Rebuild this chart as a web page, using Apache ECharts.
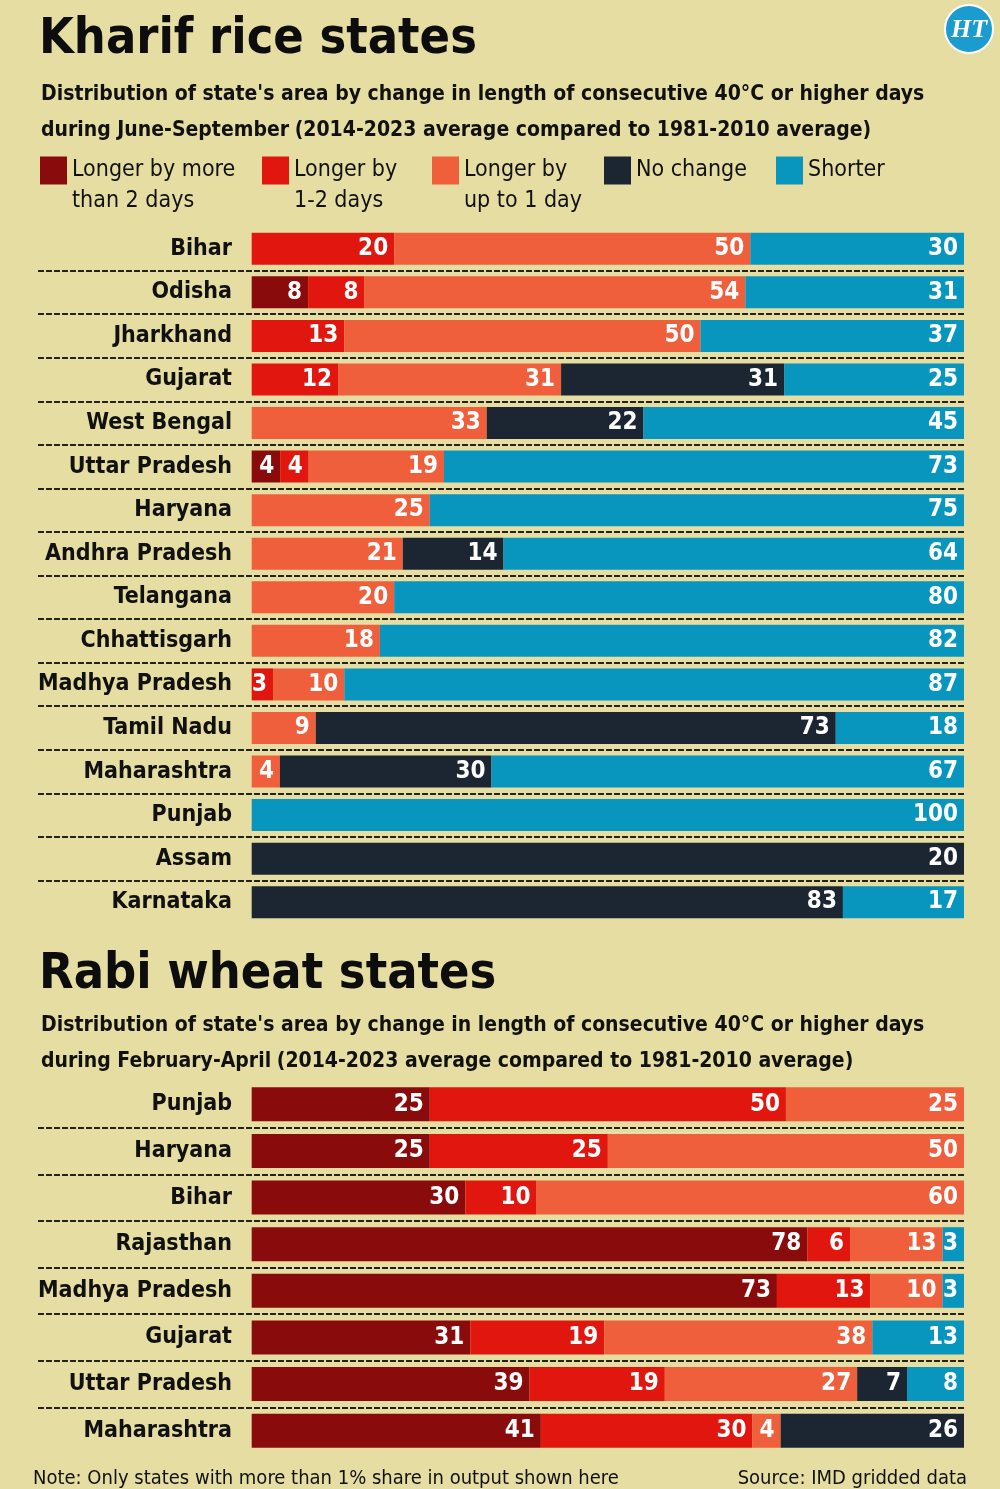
<!DOCTYPE html>
<html>
<head>
<meta charset="utf-8">
<title>Kharif rice and Rabi wheat states</title>
<script src="https://cdn.jsdelivr.net/npm/echarts@6/dist/echarts.min.js"></script>
<style>
  html, body { margin: 0; padding: 0; background: #e6dda3; }
  #chart { width: 1000px; height: 1489px; }
</style>
</head>
<body>
<div id="chart"></div>
<script>
// categories
var kharifStates = ['Bihar', 'Odisha', 'Jharkhand', 'Gujarat', 'West Bengal', 'Uttar Pradesh', 'Haryana',
    'Andhra Pradesh', 'Telangana', 'Chhattisgarh', 'Madhya Pradesh', 'Tamil Nadu', 'Maharashtra',
    'Punjab', 'Assam', 'Karnataka'];
var rabiStates = ['Punjab', 'Haryana', 'Bihar', 'Rajasthan', 'Madhya Pradesh', 'Gujarat',
    'Uttar Pradesh', 'Maharashtra'];

var seriesNames = ['Longer by more\nthan 2 days', 'Longer by\n1-2 days', 'Longer by\nup to 1 day', 'No change', 'Shorter'];

// kharif (June-September), % of area
var kharifMore2  = [0, 8, 0, 0, 0, 4, 0, 0, 0, 0, 0, 0, 0, 0, 0, 0];
var kharif1to2   = [20, 8, 13, 12, 0, 4, 0, 0, 0, 0, 3, 0, 0, 0, 0, 0];
var kharifUpTo1  = [50, 54, 50, 31, 33, 19, 25, 21, 20, 18, 10, 9, 4, 0, 0, 0];
var kharifNone   = [0, 0, 0, 31, 22, 0, 0, 14, 0, 0, 0, 73, 30, 0, 20, 83];
var kharifShort  = [30, 31, 37, 25, 45, 73, 75, 64, 80, 82, 87, 18, 67, 100, 0, 17];

// rabi (February-April), % of area
var rabiMore2  = [25, 25, 30, 78, 73, 31, 39, 41];
var rabi1to2   = [50, 25, 10, 6, 13, 19, 19, 30];
var rabiUpTo1  = [25, 50, 60, 13, 10, 38, 27, 4];
var rabiNone   = [0, 0, 0, 0, 0, 0, 7, 26];
var rabiShort  = [0, 0, 0, 3, 3, 13, 8, 0];

var colors = ['#8a0b0b', '#e1170f', '#ef5f3c', '#1b2632', '#0896be'];
var FONT = "'DejaVu Sans Condensed', 'Liberation Sans Narrow', sans-serif";

function rowTotals(groups) {
    return groups[0].map(function (v, i) {
        var t = 0;
        groups.forEach(function (g) { t += g[i]; });
        return t;
    });
}

// each row is drawn as a share of its own total, labels keep the printed value
function buildSeries(groups, axisIndex, stack, barWidth) {
    var totals = rowTotals(groups);
    return groups.map(function (raw, k) {
        return {
            name: seriesNames[k],
            type: 'bar',
            stack: stack,
            xAxisIndex: axisIndex,
            yAxisIndex: axisIndex,
            barWidth: barWidth,
            itemStyle: { color: colors[k] },
            label: {
                show: true,
                position: 'insideRight',
                distance: 6,
                color: '#fff',
                fontFamily: FONT,
                fontWeight: 'bold',
                fontSize: 24,
                formatter: function (p) { return raw[p.dataIndex] > 0 ? raw[p.dataIndex] : ''; }
            },
            emphasis: { disabled: true },
            data: raw.map(function (v, i) { return v / totals[i] * 100; })
        };
    });
}

function dashColors(n) {
    var arr = [];
    for (var i = 0; i <= n; i++) arr.push(i === 0 || i === n ? 'rgba(0,0,0,0)' : '#23231c');
    return arr;
}

var kharifGroups = [kharifMore2, kharif1to2, kharifUpTo1, kharifNone, kharifShort];
var rabiGroups = [rabiMore2, rabi1to2, rabiUpTo1, rabiNone, rabiShort];

var legendLeft = [40, 262, 432, 604, 776];

var chart = echarts.init(document.getElementById('chart'));

var subRich = {
    b: { fontFamily: FONT, fontSize: 21, fontWeight: 'bold', color: '#111', lineHeight: 36 },
    n: { fontFamily: FONT, fontSize: 21, color: '#111', lineHeight: 36 }
};

var option = {
    backgroundColor: '#e6dda3',
    animation: false,
    textStyle: { fontFamily: FONT },
    title: [
        {
            text: 'Kharif rice states', left: 34, top: 10,
            textStyle: { fontFamily: FONT, fontSize: 50, fontWeight: 'bold', color: '#0d0d0d' }
        },
        {
            text: "{b|Distribution of state's area by change in length of consecutive 40°C or higher days}\n" +
                  "{b|during June-September} {n|(2014-2023 average compared to 1981-2010 average)}",
            left: 36, top: 72,
            textStyle: { rich: subRich }
        },
        {
            text: 'Rabi wheat states', left: 34, top: 945,
            textStyle: { fontFamily: FONT, fontSize: 50, fontWeight: 'bold', color: '#0d0d0d' }
        },
        {
            text: "{b|Distribution of state's area by change in length of consecutive 40°C or higher days}\n" +
                  "{b|during February-April} {n|(2014-2023 average compared to 1981-2010 average)}",
            left: 36, top: 1003,
            textStyle: { rich: subRich }
        },
        {
            text: 'Note: Only states with more than 1% share in output shown here',
            left: 28, top: 1464,
            textStyle: { fontFamily: FONT, fontSize: 20, fontWeight: 'normal', color: '#111' }
        },
        {
            text: 'Source: IMD gridded data',
            right: 28, top: 1464,
            textStyle: { fontFamily: FONT, fontSize: 20, fontWeight: 'normal', color: '#111' }
        }
    ],
    legend: seriesNames.map(function (name, i) {
        var twoLines = name.indexOf('\n') >= 0;
        return {
            data: [name],
            left: legendLeft[i],
            top: twoLines ? 124 : 155,
            padding: 0,
            itemWidth: 27,
            itemHeight: 28,
            selectedMode: false,
            icon: 'rect',
            formatter: function (n) { return twoLines ? '\n' + n : n; },
            textStyle: { fontFamily: FONT, fontSize: 23, color: '#111', lineHeight: 31 }
        };
    }),
    grid: [
        { left: 38, right: 36, top: 227, height: 697, outerBoundsMode: 'none' },
        { left: 38, right: 36, top: 1081, height: 373, outerBoundsMode: 'none' }
    ],
    xAxis: [
        { gridIndex: 0, type: 'value', min: -30, max: 100, show: false },
        { gridIndex: 1, type: 'value', min: -30, max: 100, show: false }
    ],
    yAxis: [0, 1].map(function (g) {
        var cats = g === 0 ? kharifStates : rabiStates;
        return {
            gridIndex: g,
            type: 'category',
            inverse: true,
            data: cats,
            offset: -202,
            axisLine: { show: false },
            axisTick: { show: false },
            axisLabel: {
                margin: 8,
                fontFamily: FONT, fontSize: 23, fontWeight: 'bold', color: '#111'
            },
            splitLine: {
                show: true,
                lineStyle: { color: dashColors(cats.length), width: 2, type: [6, 2] }
            }
        };
    }),
    graphic: [
        {
            type: 'circle', shape: { cx: 969, cy: 29, r: 24 },
            style: { fill: '#1a9ccf', stroke: '#ffffff', lineWidth: 2 }
        },
        {
            type: 'text', x: 969, y: 30,
            style: {
                text: 'HT', fill: '#fff', align: 'center', verticalAlign: 'middle',
                font: "italic bold 26px 'Liberation Serif', 'DejaVu Serif', serif"
            }
        }
    ],
    series: buildSeries(kharifGroups, 0, 'kharif', 32).concat(buildSeries(rabiGroups, 1, 'rabi', 34))
};

chart.setOption(option);
</script>
</body>
</html>
